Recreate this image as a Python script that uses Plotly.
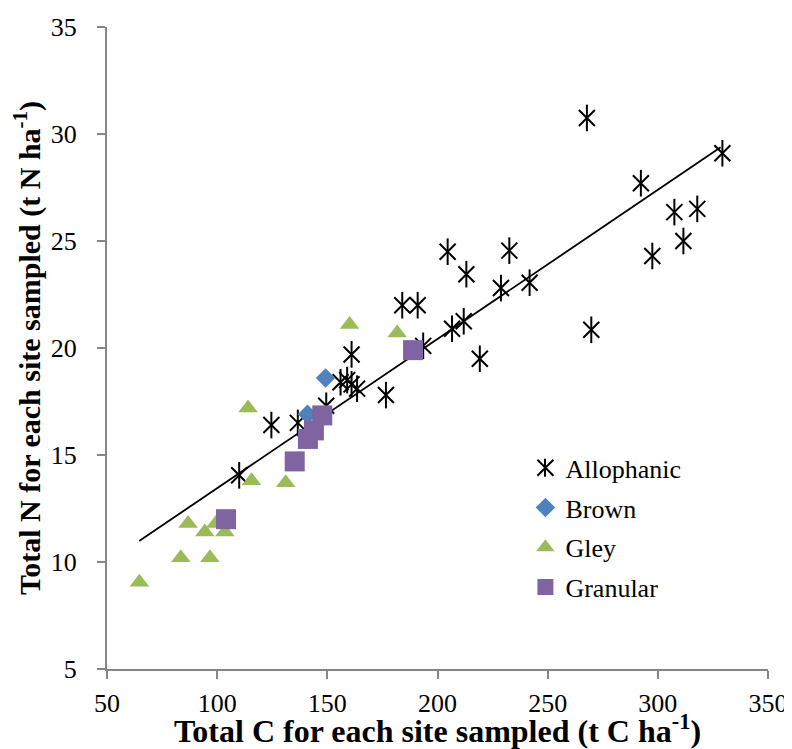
import plotly.graph_objects as go

# Allophanic
allo_c = [110, 124.6, 136.6, 149.5, 156, 159, 161, 163.5, 161, 176.6, 184, 191, 193.5,
          204.6, 206.6, 211.9, 213.1, 219.2, 228.8, 232.6, 241.8, 267.8, 269.8,
          292.3, 297.5, 307.5, 311.6, 317.9, 329.3]
allo_n = [14.05, 16.4, 16.5, 17.3, 18.4, 18.5, 18.3, 18.1, 19.7, 17.8, 22.0, 22.0, 20.1,
          24.5, 20.9, 21.25, 23.45, 19.5, 22.8, 24.55, 23.05, 30.75, 20.85,
          27.7, 24.3, 26.35, 25.0, 26.5, 29.1]
# Brown
brown_c = [149.2, 141.0]
brown_n = [18.6, 16.9]
# Gley
gley_c = [64.7, 83.5, 96.7, 86.8, 94.4, 99.4, 103.5, 114.0, 115.6, 131.1, 160.1, 181.7]
gley_n = [9.05, 10.2, 10.2, 11.8, 11.4, 11.8, 11.4, 17.2, 13.8, 13.7, 21.1, 20.7]
# Granular
gran_c = [104.0, 135.2, 141.2, 143.9, 147.7, 188.9]
gran_n = [12.0, 14.7, 15.75, 16.15, 16.85, 19.9]
# Trend line (linear fit)
trend_slope = 0.0697
trend_intercept = 6.48
trend_c = [64.6, 328.5]
trend_n = [trend_slope * c + trend_intercept for c in trend_c]

x_ticks = [50, 100, 150, 200, 250, 300, 350]
y_ticks = [5, 10, 15, 20, 25, 30, 35]

SERIF = "serif"
TITLE_SERIF = "Liberation Serif"
axis_grey = "#868686"

fig = go.Figure()
fig.add_trace(go.Scatter(x=trend_c, y=trend_n, mode="lines",
                         line=dict(color="black", width=1.8), showlegend=False))
fig.add_trace(go.Scatter(x=allo_c, y=allo_n, mode="markers", name="Allophanic",
                         legendgroup="a",
                         marker=dict(symbol="x-thin-open", size=16, color="black",
                                     line=dict(color="black", width=2))))
fig.add_trace(go.Scatter(x=allo_c, y=allo_n, mode="markers", showlegend=False,
                         legendgroup="a",
                         marker=dict(symbol="line-ns-open", size=19, color="black",
                                     line=dict(color="black", width=2))))
fig.add_trace(go.Scatter(x=brown_c, y=brown_n, mode="markers", name="Brown",
                         legendgroup="b",
                         marker=dict(symbol="diamond", size=15, color="#4F81BD")))
fig.add_trace(go.Scatter(x=gley_c, y=gley_n, mode="markers", name="Gley",
                         legendgroup="c",
                         marker=dict(symbol="triangle-up", size=17, color="#9BBB59")))
fig.add_trace(go.Scatter(x=gran_c, y=gran_n, mode="markers", name="Granular",
                         legendgroup="d",
                         marker=dict(symbol="square", size=20, color="#8064A2")))

# vertical bar completing the asterisk symbol in the legend
fig.add_shape(type="line", xref="paper", yref="paper",
              x0=0.6626, x1=0.6626, y0=0.2995, y1=0.3275,
              line=dict(color="black", width=2))

fig.update_layout(
    width=784, height=741,
    margin=dict(l=99, r=24, t=19, b=80, autoexpand=False),
    paper_bgcolor="white", plot_bgcolor="white",
    showlegend=True,
    legend=dict(x=0.633, y=0.35, xanchor="left", yanchor="top",
                font=dict(family=SERIF, size=26, color="black"),
                bgcolor="rgba(0,0,0,0)", tracegroupgap=3),
    xaxis=dict(range=[50, 350], tickmode="array", tickvals=x_ticks,
               showgrid=False, zeroline=False, showline=True, linecolor=axis_grey,
               linewidth=2, ticks="outside", tickcolor=axis_grey, ticklen=8, tickwidth=1.5,
               automargin=False, ticklabelstandoff=2,
               tickfont=dict(family=SERIF, size=26, color="black"),
               title=dict(text="<b>Total C for each site sampled (t C ha<sup>-1</sup>)</b>",
                          font=dict(family=TITLE_SERIF, size=32, color="black"), standoff=0)),
    yaxis=dict(range=[5, 35], tickmode="array", tickvals=y_ticks,
               showgrid=False, zeroline=False, showline=True, linecolor=axis_grey,
               linewidth=2, ticks="outside", tickcolor=axis_grey, ticklen=8, tickwidth=1.5,
               automargin=False, ticklabelstandoff=15,
               tickfont=dict(family=SERIF, size=26, color="black"),
               title=dict(text="<b>Total N for each site sampled (t N ha<sup>-1</sup>)</b>",
                          font=dict(family=TITLE_SERIF, size=30, color="black"), standoff=10)),
)

fig.write_html("out.html")
